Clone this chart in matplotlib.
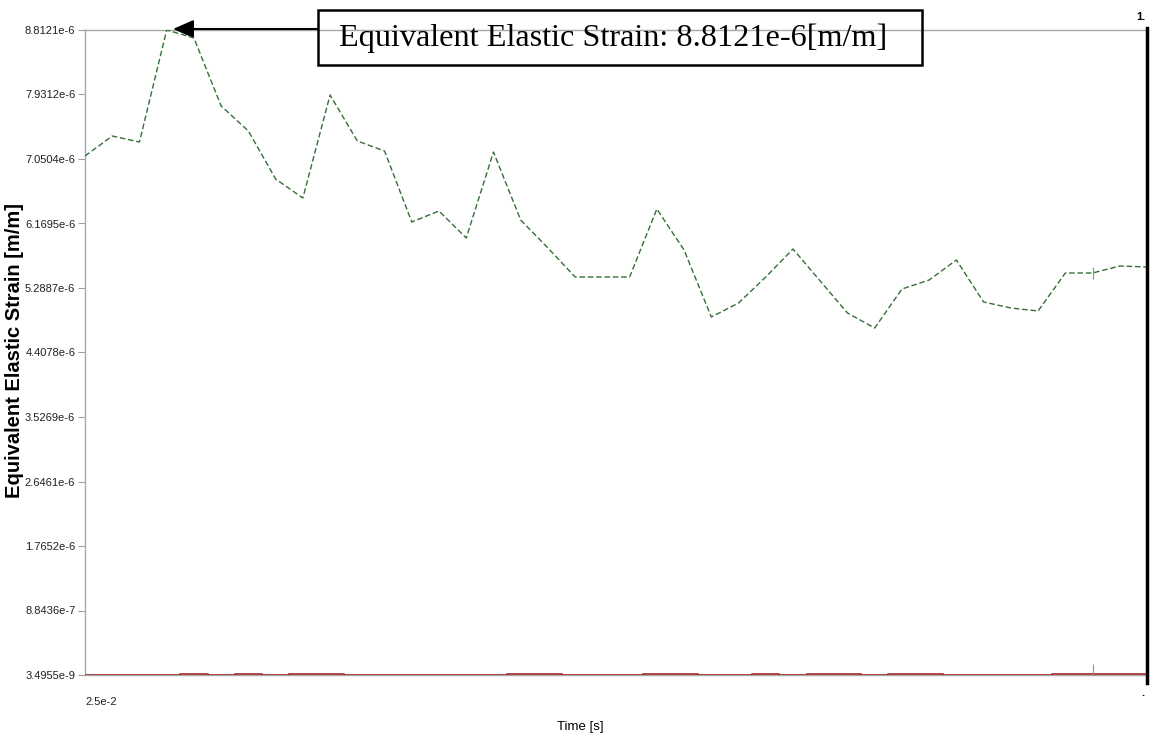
import matplotlib
matplotlib.use("Agg")
import matplotlib.pyplot as plt
from matplotlib.patches import Rectangle
import numpy as np

# ---- data ----
time_s = [0.025 * i for i in range(1, 41)]
max_strain = [7.0913e-6, 7.3645e-6, 7.2825e-6, 8.8121e-6, 8.7028e-6, 7.7742e-6, 7.4327e-6, 6.7772e-6,
              6.5177e-6, 7.9244e-6, 7.2962e-6, 7.1596e-6, 6.1900e-6, 6.3402e-6, 5.9714e-6, 7.1459e-6,
              6.2173e-6, 5.8349e-6, 5.4388e-6, 5.4388e-6, 5.4388e-6, 6.3675e-6, 5.8076e-6, 4.8925e-6,
              5.0837e-6, 5.4388e-6, 5.8212e-6, 5.3842e-6, 4.9472e-6, 4.7423e-6, 5.2749e-6, 5.3978e-6,
              5.6710e-6, 5.0974e-6, 5.0155e-6, 4.9745e-6, 5.4934e-6, 5.4934e-6, 5.5890e-6, 5.5754e-6]
min_strain = [3.4955e-9, 3.4955e-9, 3.4955e-9, 3.4955e-9, 1.7e-8, 3.4955e-9, 1.7e-8, 3.4955e-9,
              1.7e-8, 1.7e-8, 3.4955e-9, 3.4955e-9, 3.4955e-9, 3.4955e-9, 3.4955e-9, 3.4955e-9,
              1.7e-8, 1.7e-8, 3.4955e-9, 3.4955e-9, 3.4955e-9, 1.7e-8, 1.7e-8, 3.4955e-9,
              3.4955e-9, 1.7e-8, 3.4955e-9, 1.7e-8, 1.7e-8, 3.4955e-9, 1.7e-8, 1.7e-8,
              3.4955e-9, 3.4955e-9, 3.4955e-9, 3.4955e-9, 1.7e-8, 1.7e-8, 1.7e-8, 1.7e-8]
y_min, y_max = 3.4955e-9, 8.8121e-6
ytick_labels = ["3.4955e-9", "8.8436e-7", "1.7652e-6", "2.6461e-6", "3.5269e-6", "4.4078e-6",
                "5.2887e-6", "6.1695e-6", "7.0504e-6", "7.9312e-6", "8.8121e-6"]
xtick_label = "2.5e-2"
annotation_text = "Equivalent Elastic Strain: 8.8121e-6[m/m]"
y_label = "Equivalent Elastic Strain [m/m]"
x_label = "Time [s]"

W, H = 1158, 745
fig = plt.figure(figsize=(W / 100, H / 100), dpi=100)
L, R, T, B = 85, 1147, 30, 675
ax = fig.add_axes([L / W, 1 - B / H, (R - L) / W, (B - T) / H])

ax.plot(time_s, min_strain, color="#a02828", lw=1.2, drawstyle="steps-mid", zorder=3)
ax.plot(time_s, max_strain, color="#356f35", lw=1.0, dashes=(4, 2), zorder=4)
# cursor marks
ax.plot([time_s[37]], [max_strain[37]], marker="|", ms=8, color="#909090", mew=0.8, zorder=5)
ax.plot([time_s[37]], [y_min], marker="|", ms=16, color="#909090", mew=0.8, zorder=5)

ax.set_xlim(time_s[0], time_s[-1])
ax.set_ylim(y_min, y_max)
ax.set_yticks(np.linspace(y_min, y_max, len(ytick_labels)))
ax.set_yticklabels(ytick_labels, fontfamily="Liberation Sans", fontsize=8, color="#202020")
ax.set_xticks([time_s[0]])
ax.set_xticklabels([xtick_label], fontfamily="Liberation Sans", fontsize=8, color="#202020", ha="left")
ax.tick_params(axis="y", direction="out", length=5, width=0.8, color="#a0a0a0", pad=2)
ax.tick_params(axis="x", direction="out", length=0, pad=16)

for s in ["left", "top", "bottom"]:
    ax.spines[s].set_color("#a8a8a8")
    ax.spines[s].set_linewidth(1.0)
ax.spines["right"].set_visible(False)
# right black border
fig.add_artist(plt.Line2D([R / W, R / W], [1 - 28 / H, 1 - 683 / H], color="black", lw=2.5))

fig.text(15 / W, 1 - 350 / H, y_label, rotation=90, ha="center", va="center",
         fontfamily="Liberation Sans", fontweight="bold", fontsize=14.5)
fig.text(580 / W, 1 - 727 / H, x_label, ha="center", va="center",
         fontfamily="Liberation Sans", fontsize=9.5)
fig.text(1141 / W, 1 - 17 / H, "1.", ha="center", va="center",
         fontfamily="Liberation Sans", fontweight="bold", fontsize=8)
fig.text(1143 / W, 1 - 693 / H, ".", ha="center", va="center",
         fontfamily="Liberation Sans", fontweight="bold", fontsize=8)

# annotation box
bx0, bx1, by0, by1 = 318, 922, 10, 65
fig.add_artist(Rectangle((bx0 / W, 1 - by1 / H), (bx1 - bx0) / W, (by1 - by0) / H,
                         transform=fig.transFigure, fill=False, ec="black", lw=1.8))
fig.text((bx0 + 21) / W, 1 - 38 / H, annotation_text, ha="left", va="center",
         fontfamily="Liberation Serif", fontsize=23.2)
ax.annotate("", xy=(173, H - 29), xycoords="figure pixels",
            xytext=(bx0, H - 29), textcoords="figure pixels",
            arrowprops=dict(arrowstyle="-|>,head_length=1.25,head_width=0.55", mutation_scale=10,
                            lw=1.5, color="black", shrinkA=0, shrinkB=0),
            annotation_clip=False)

fig.savefig("out.png", dpi=100)
